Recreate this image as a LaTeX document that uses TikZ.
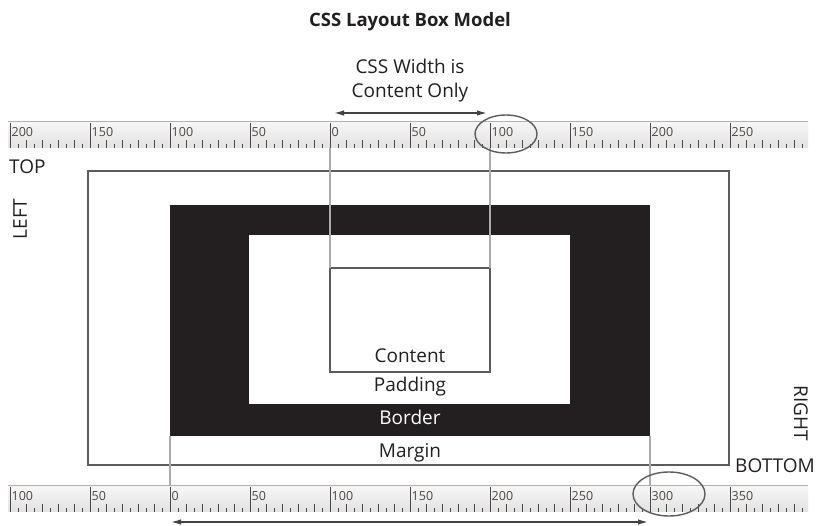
\documentclass[tikz,border=0pt]{standalone}
\usepackage{fontspec}
\setmainfont{Open Sans}
\usetikzlibrary{arrows.meta,shapes.geometric}

\definecolor{ink}{HTML}{231F20}
\definecolor{frame}{HTML}{5C5C5C}
\definecolor{guide}{HTML}{ABABAB}
\definecolor{rulerlight}{HTML}{F6F6F6}
\definecolor{rulerdark}{HTML}{E2E2E2}
\definecolor{rulerrim}{HTML}{B0B0B0}
\definecolor{rulerink}{HTML}{4E4844}

% one ruler strip: #1 name, #2 top edge (y), #3 labels of the major marks
\newcommand\rulerstrip[3]{%
  \node[rulerbox] (#1) at (8,#2) {};
  \draw[rulerrim, line width=1pt] (#1.north west) -- (#1.north east);
  \foreach \lab [count=\k from 0] in {#3} {
    \pgfmathsetmacro\mx{10+80*\k}
    \draw[tickline] (\mx,#2+1) -- (\mx,#2+26);
    \node[rulernum] at (\mx+1.5,#2+14.5) {\lab};
  }
  \foreach \j in {1,...,99} {
    \pgfmathtruncatemacro\r{mod(\j,10)}
    \ifnum\r=0\relax\else
      \pgfmathsetmacro\tl{ifthenelse(mod(\j,2)==0,8,4)}
      \draw[tickline] (10+8*\j,#2+26) -- ++(0,-\tl);
    \fi
  }
}

\begin{document}
\begin{tikzpicture}[x=1pt,y=-1pt,
  lbl/.style={font=\fontsize{19}{22}\selectfont, text=ink, inner sep=0pt, anchor=base},
  heading/.style={font=\fontsize{18.5}{20}\selectfont\bfseries, text=ink, inner sep=0pt, anchor=base},
  box/.style={rectangle, inner sep=0pt, outer sep=0pt, anchor=north west},
  rulerbox/.style={box, minimum width=800pt, minimum height=26pt,
    top color=rulerlight, bottom color=rulerdark},
  rulernum/.style={font=\fontsize{12.5}{13}\selectfont, text=rulerink, inner sep=0pt, anchor=base west},
  tickline/.style={draw=rulerink, line width=0.9pt},
  guideline/.style={draw=guide, line width=1.4pt},
  outline/.style={draw=frame, line width=1.5pt},
  dimarrow/.style={draw=ink!85, line width=1.4pt, {Latex[length=10pt,width=5.5pt]}-{Latex[length=10pt,width=5.5pt]}},
  ring/.style={ellipse, draw=frame, line width=1.4pt, inner sep=0pt}]

\useasboundingbox (0,0) rectangle (823,526);
\fill[white] (0,0) rectangle (823,526);

% heading and width note
\node[heading] (title) at (410,27) {CSS Layout Box Model};
\node[lbl] (note1) at (410,74) {CSS Width is};
\node[lbl] (note2) at (410,98) {Content Only};

% nested boxes: margin, border, padding, content
\node[box, outline, minimum width=641pt, minimum height=294pt] (margin) at (88,171) {};
\node[box, fill=ink, minimum width=480pt, minimum height=231pt] (border) at (170,205) {};
\node[box, fill=white, minimum width=321pt, minimum height=169pt] (padding) at (249,235) {};
\node[box, outline, minimum width=160pt, minimum height=104pt] (content) at (330,268) {};

% rulers
\rulerstrip{rtop}{122}{200,150,100,50,0,50,100,150,200,250}
\rulerstrip{rbot}{486}{100,50,0,50,100,150,200,250,300,350}

% guides from the rulers to the boxes
\draw[guideline] (content.north west |- rtop.south) -- (content.north west);
\draw[guideline] (content.north east |- rtop.south) -- (content.north east);
\draw[guideline] (border.south west) -- (border.south west |- rbot.north);
\draw[guideline] (border.south east) -- (border.south east |- rbot.north);

% width arrows
\coordinate (wl) at (334,113);
\coordinate (wr) at (487,113);
\draw[dimarrow] (wl) -- (wr);
\coordinate (bl) at (171,522);
\coordinate (br) at (648,522);
\draw[dimarrow] (bl) -- (br);

% rings round the marks
\node[ring, minimum width=62pt, minimum height=38pt] (ringtop) at (506,134) {};
\node[ring, minimum width=72pt, minimum height=44pt] (ringbot) at (669,494) {};

% box labels
\node[lbl] (lcontent) at (410,363) {Content};
\node[lbl] (lpadding) at (410,392) {Padding};
\node[lbl, text=white] (lborder) at (410,425) {Border};
\node[lbl] (lmargin) at (410,458) {Margin};

% side labels
\node[lbl, anchor=base west] (ltop) at (9,174) {TOP};
\node[lbl, rotate=90] (lleft) at (27,219) {LEFT};
\node[lbl, rotate=-90] (lright) at (794,413) {RIGHT};
\node[lbl] (lbottom) at (775,473) {BOTTOM};
\end{tikzpicture}
\end{document}
